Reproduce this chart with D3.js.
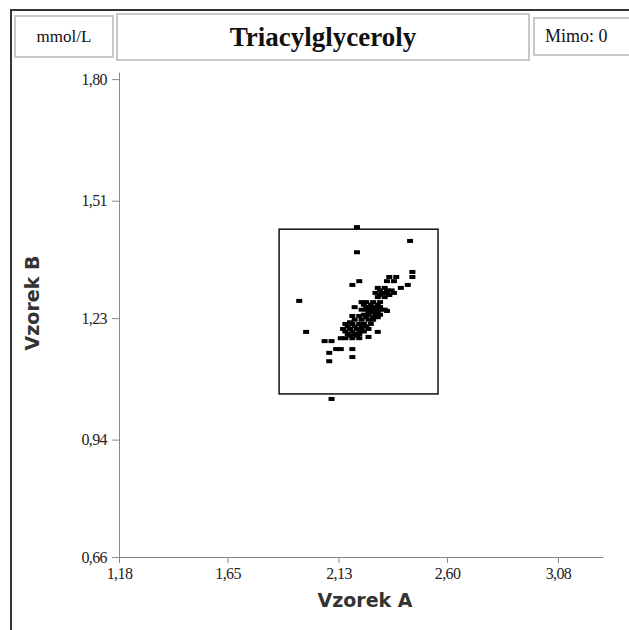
<!DOCTYPE html>
<html>
<head>
<meta charset="utf-8">
<script src="https://cdn.jsdelivr.net/npm/d3@7"></script>
<style>
    body { margin: 0; background: #fff; }
    svg { display: block; }
</style>
</head>
<body>
<svg id="chart" width="629" height="630"></svg>
<script>
// measured pairs, Vzorek A (x) vs Vzorek B (y), mmol/L
const xValues = [
    2.21, 2.44, 2.21, 2.45, 2.45, 2.35, 2.38, 2.34, 2.37, 2.22,
    2.19, 2.43, 2.40, 2.30, 2.33, 2.29, 2.32, 2.34, 2.37, 1.96,
    2.23, 2.25, 2.28, 2.30, 2.33, 2.31, 2.20, 2.25, 2.27, 2.29,
    2.31, 2.26, 2.28, 2.30, 2.34, 2.19, 2.22, 2.25, 2.28, 2.30,
    2.18, 2.16, 2.19, 2.22, 2.24, 2.27, 2.15, 2.18, 2.21, 2.23,
    2.26, 2.17, 2.20, 2.22, 1.99, 2.30, 2.26, 2.14, 2.16, 2.19,
    2.22, 2.07, 2.10, 2.12, 2.14, 2.19, 2.09, 2.19, 2.09, 2.10,
    2.24, 2.27, 2.30, 2.23, 2.25, 2.27, 2.29, 2.31, 2.33, 2.24,
    2.26, 2.29, 2.31, 2.20, 2.23, 2.26, 2.28, 2.17, 2.20, 2.23,
    2.25, 2.16, 2.19, 2.22, 2.24, 2.18, 2.21, 2.31, 2.34, 2.36,
    2.31, 2.35
];
const yValues = [
    1.447, 1.414, 1.387, 1.340, 1.328, 1.328, 1.328, 1.318, 1.318, 1.318,
    1.309, 1.309, 1.302, 1.302, 1.302, 1.290, 1.290, 1.290, 1.290, 1.271,
    1.268, 1.268, 1.268, 1.280, 1.280, 1.268, 1.256, 1.256, 1.256, 1.256,
    1.256, 1.244, 1.244, 1.244, 1.247, 1.235, 1.235, 1.232, 1.232, 1.232,
    1.220, 1.216, 1.216, 1.216, 1.216, 1.216, 1.204, 1.204, 1.204, 1.204,
    1.204, 1.192, 1.192, 1.192, 1.197, 1.197, 1.185, 1.182, 1.182, 1.182,
    1.182, 1.175, 1.175, 1.156, 1.156, 1.156, 1.147, 1.137, 1.127, 1.037,
    1.262, 1.262, 1.262, 1.250, 1.250, 1.250, 1.250, 1.250, 1.250, 1.238,
    1.238, 1.238, 1.238, 1.226, 1.226, 1.226, 1.226, 1.210, 1.210, 1.210,
    1.210, 1.198, 1.198, 1.198, 1.198, 1.188, 1.188, 1.296, 1.296, 1.296,
    1.285, 1.285
];
const xTicks = [1.18, 1.65, 2.13, 2.60, 3.08];
const yTicks = [0.66, 0.94, 1.23, 1.51, 1.80];
// acceptance box (limits) for A and B
const limitsA = [1.873, 2.561];
const limitsB = [1.049, 1.442];

(() => {
    'use strict';

    const svg = d3.select('#chart'),
          axisColor = '#8a8a8a',
          serif = '"Liberation Serif", "Times New Roman", serif',
          sans = '"DejaVu Sans", Tahoma, sans-serif',
          commaFmt = d => d3.format('.2f')(d).replace('.', ',');

    const x = d3.scaleLinear().domain([1.18, 3.275]).range([119, 603]),
          y = d3.scaleLinear().domain([0.66, 1.817]).range([557, 72]);

    // outer frame (only top and left are visible)
    svg.append('path')
        .attr('d', 'M11,631 V10 H630')
        .attr('fill', 'none')
        .attr('stroke', '#333')
        .attr('stroke-width', 2);

    // header boxes
    const headers = [
        { text: 'mmol/L', x0: 15, x1: 113, y0: 16, y1: 57, tx: 64, size: 17, weight: 'normal', anchor: 'middle' },
        { text: 'Triacylglyceroly', x0: 117, x1: 529, y0: 14, y1: 60, tx: 323, size: 27, weight: 'bold', anchor: 'middle' },
        { text: 'Mimo: 0', x0: 534, x1: 640, y0: 18, y1: 55, tx: 545, size: 18, weight: 'normal', anchor: 'start' }
    ];
    const hdr = svg.selectAll('g.hdr')
        .data(headers)
        .enter()
        .append('g')
        .attr('class', 'hdr');
    hdr.append('rect')
        .attr('x', d => d.x0)
        .attr('y', d => d.y0)
        .attr('width', d => d.x1 - d.x0)
        .attr('height', d => d.y1 - d.y0)
        .attr('fill', '#fff')
        .attr('stroke', '#c8c8c8')
        .attr('stroke-width', 2);
    hdr.append('text')
        .attr('x', d => d.tx)
        .attr('y', d => (d.y0 + d.y1) / 2 + d.size * 0.33)
        .attr('text-anchor', d => d.anchor)
        .attr('font-family', serif)
        .attr('font-size', d => d.size)
        .attr('font-weight', d => d.weight)
        .attr('fill', '#111')
        .text(d => d.text);

    // axes
    const xAxis = d3.axisBottom(x).tickValues(xTicks).tickFormat(commaFmt)
                    .tickSizeInner(6).tickSizeOuter(0).tickPadding(5),
          yAxis = d3.axisLeft(y).tickValues(yTicks).tickFormat(commaFmt)
                    .tickSizeInner(7).tickSizeOuter(0).tickPadding(5);

    const gx = svg.append('g')
        .attr('transform', 'translate(0,557)')
        .call(xAxis);
    const gy = svg.append('g')
        .attr('transform', 'translate(119,0)')
        .call(yAxis);

    [gx, gy].forEach(g => {
        g.select('.domain').attr('stroke', axisColor);
        g.selectAll('.tick line').attr('stroke', axisColor);
        g.selectAll('.tick text')
            .attr('font-family', serif)
            .attr('font-size', 16)
            .attr('letter-spacing', '-0.6px')
            .attr('fill', '#222');
    });

    // axis titles
    svg.append('text')
        .attr('x', 365)
        .attr('y', 607)
        .attr('text-anchor', 'middle')
        .attr('font-family', sans)
        .attr('font-weight', 'bold')
        .attr('font-size', 19)
        .attr('fill', '#333')
        .text('Vzorek A');

    svg.append('text')
        .attr('transform', 'translate(39,303) rotate(-90)')
        .attr('text-anchor', 'middle')
        .attr('font-family', sans)
        .attr('font-weight', 'bold')
        .attr('font-size', 19)
        .attr('fill', '#333')
        .text('Vzorek B');

    // acceptance box
    svg.append('rect')
        .attr('x', x(limitsA[0]))
        .attr('y', y(limitsB[1]))
        .attr('width', x(limitsA[1]) - x(limitsA[0]))
        .attr('height', y(limitsB[0]) - y(limitsB[1]))
        .attr('fill', 'none')
        .attr('stroke', '#111')
        .attr('stroke-width', 1.5);

    // points
    const points = xValues.map((v, i) => ({ a: v, b: yValues[i] }));
    svg.selectAll('rect.pt')
        .data(points)
        .enter()
        .append('rect')
        .attr('class', 'pt')
        .attr('x', d => x(d.a) - 3)
        .attr('y', d => y(d.b) - 2)
        .attr('width', 6)
        .attr('height', 4)
        .attr('fill', '#000');
})();
</script>
</body>
</html>
